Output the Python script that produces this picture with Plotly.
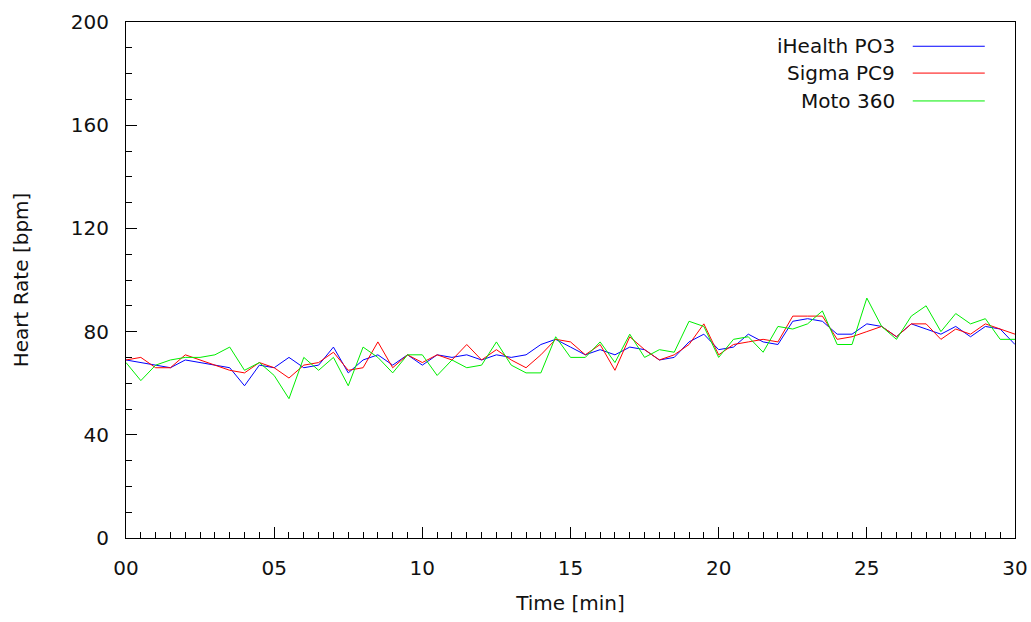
import plotly.graph_objects as go

time_min = [i * 0.5 for i in range(61)]

ihealth_po3 = [69, 68, 67, 66, 69, 68, 67, 66, 59, 67,
               66, 70, 66, 67, 74, 64, 69, 71, 67, 71,
               67, 71, 70, 71, 69, 71, 70, 71, 75, 77,
               74, 71, 73, 71, 74, 73, 69, 70, 76, 79,
               73, 74, 79, 76, 75, 84, 85, 84, 79, 79,
               83, 82, 78, 83, 81, 79, 82, 78, 82, 81,
               75]

sigma_pc9 = [69, 70, 66, 66, 71, 69, 67, 65, 64, 68,
             66, 62, 67, 68, 72, 65, 66, 76, 66, 71,
             68, 71, 69, 75, 69, 73, 69, 66, 71, 77,
             76, 71, 75, 65, 78, 73, 69, 71, 75, 83,
             71, 75, 76, 77, 76, 86, 86, 86, 77, 78,
             80, 82, 78, 83, 83, 77, 81, 79, 83, 81,
             79]

moto_360 = [68, 61, 67, 69, 70, 70, 71, 74, 65, 68,
            63, 54, 70, 65, 70, 59, 74, 70, 64, 71,
            71, 63, 69, 66, 67, 76, 67, 64, 64, 78,
            70, 70, 76, 68, 79, 70, 73, 72, 84, 82,
            70, 77, 78, 72, 82, 81, 83, 88, 75, 75,
            93, 82, 77, 86, 90, 80, 87, 83, 85, 77,
            77]

series_names = ["iHealth PO3", "Sigma PC9", "Moto 360"]
series_values = [ihealth_po3, sigma_pc9, moto_360]
series_colors = ["#0000ff", "#ff0000", "#00ee00"]

y_ticks = [0, 40, 80, 120, 160, 200]
x_ticks = [0, 5, 10, 15, 20, 25, 30]
x_tick_labels = ["00", "05", "10", "15", "20", "25", "30"]

FONT = "DejaVu Sans"
FS = 20
TXT = "#111111"

fig = go.Figure()
for name, vals, col in zip(series_names, series_values, series_colors):
    fig.add_trace(go.Scatter(x=time_min, y=vals, mode="lines", name=name,
                             line=dict(color=col, width=1), showlegend=False))

# gnuplot-style legend: text right-aligned, line sample on the right
leg_y = [0.953, 0.901, 0.847]
for name, col, ly in zip(series_names, series_colors, leg_y):
    fig.add_annotation(x=0.867, y=ly, xref="paper", yref="paper", text=name,
                       showarrow=False, xanchor="right", yanchor="middle",
                       font=dict(family=FONT, size=FS, color=TXT))
    fig.add_shape(type="line", xref="paper", yref="paper", x0=0.885, x1=0.966,
                  y0=ly, y1=ly, line=dict(color=col, width=1))

axis_common = dict(showgrid=False, zeroline=False, showline=True, linecolor="black",
                   linewidth=1, mirror=True, ticks="inside", tickcolor="black",
                   ticklen=11, tickwidth=1, automargin=False,
                   tickfont=dict(family=FONT, size=FS, color=TXT))

fig.update_xaxes(range=[0, 30], tickvals=x_ticks, ticktext=x_tick_labels,
                 minor=dict(ticks="inside", dtick=0.5, ticklen=6, tickcolor="black"),
                 title=dict(text="Time [min]", font=dict(family=FONT, size=FS, color=TXT),
                            standoff=16),
                 ticklabelstandoff=12, **axis_common)
fig.update_yaxes(range=[0, 200], tickvals=y_ticks,
                 minor=dict(ticks="inside", dtick=10, ticklen=6, tickcolor="black"),
                 title=dict(text="Heart Rate [bpm]", font=dict(family=FONT, size=FS, color=TXT),
                            standoff=36),
                 ticklabelstandoff=12, **axis_common)

fig.update_layout(width=1031, height=622, margin=dict(l=126, r=16, t=22, b=84),
                  paper_bgcolor="white", plot_bgcolor="white",
                  font=dict(family=FONT, size=FS, color=TXT))

fig.write_html("out.html")
